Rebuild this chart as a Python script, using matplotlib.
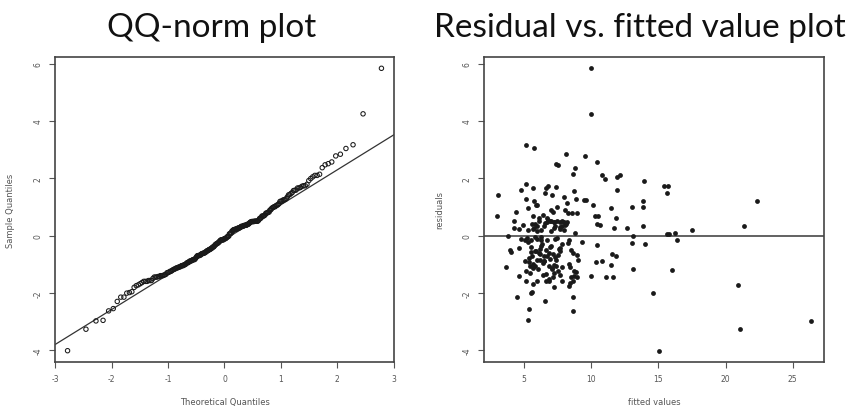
from statistics import NormalDist

import matplotlib

matplotlib.use("Agg")
import matplotlib.pyplot as plt
import numpy as np

# (fitted value, residual) pairs
fitted = [
    10.0, 10.0, 5.17, 5.72, 8.16, 9.53, 10.4, 7.36, 7.56, 8.81,
    8.66, 10.77, 11.04, 11.9, 12.14, 13.93, 5.17, 5.67, 4.80, 6.67,
    6.82, 7.36, 15.45, 15.75, 15.62, 8.71, 11.9, 3.08, 6.57, 7.11,
    5.17, 5.72, 5.87, 8.86, 9.50, 9.65, 10.10, 13.88, 22.34, 7.49,
    5.32, 13.06, 11.44, 13.88, 6.99, 7.16, 4.38, 8.56, 8.96, 2.96,
    5.67, 10.27, 10.52, 11.87, 4.28, 6.09, 6.74, 6.99, 7.24, 7.44,
    7.66, 7.86, 8.01, 8.18, 5.60, 5.85, 4.93, 6.47, 7.34, 7.69,
    8.06, 10.47, 10.65, 13.88, 21.39, 4.25, 4.63, 5.30, 5.67, 5.99,
    6.29, 7.04, 7.66, 7.96, 11.72, 12.64, 17.54, 8.76, 15.65, 15.80,
    16.27, 3.81, 13.08, 4.75, 5.07, 5.30, 5.55, 5.99, 6.24, 6.74,
    7.29, 8.36, 16.37, 9.33, 13.03, 14.00, 3.93, 4.05, 4.63, 5.55,
    5.80, 6.17, 6.62, 6.87, 7.59, 7.71, 8.48, 8.66, 8.91, 10.40,
    6.22, 6.49, 6.72, 7.14, 11.57, 11.84, 6.97, 6.52, 5.10, 5.35,
    5.97, 6.22, 7.41, 8.38, 9.0, 10.35, 10.77, 5.17, 5.42, 5.65,
    5.80, 3.69, 6.84, 7.11, 7.21, 7.86, 11.47, 13.08, 16.02, 4.60,
    5.17, 5.67, 5.97, 6.42, 6.62, 6.87, 7.26, 7.86, 8.41, 8.61,
    8.36, 8.53, 8.71, 8.96, 10.0, 11.09, 11.64, 7.26, 5.50, 5.62,
    20.92, 14.58, 4.50, 8.63, 6.59, 5.37, 8.63, 5.30, 21.07, 26.39,
    15.02,
    # points that overlap inside the dense cluster
    5.45, 5.85, 6.05, 6.35, 6.55, 6.95, 7.15, 7.45, 7.85, 8.25,
    5.6, 6.1, 6.4, 6.8, 7.0, 7.5, 5.9, 6.6, 7.3, 8.1,
    5.25, 5.75, 6.15, 6.45, 6.85, 7.25, 7.65, 8.05, 8.45, 8.85,
    5.4, 5.95, 6.3, 6.7, 7.05, 7.4, 7.8, 8.2, 5.55, 6.0,
    6.5, 7.2, 7.7, 8.3, 5.7, 6.25, 6.9, 7.55, 8.0, 8.7,
]
residuals = [
    5.84, 4.25, 3.17, 3.04, 2.84, 2.78, 2.57, 2.51, 2.47, 2.37,
    2.14, 2.10, 1.99, 2.05, 2.10, 1.92, 1.79, 1.66, 1.59, 1.66,
    1.72, 1.68, 1.74, 1.74, 1.50, 1.57, 1.58, 1.42, 1.47, 1.43,
    1.26, 1.20, 1.08, 1.29, 1.25, 1.24, 1.06, 1.20, 1.19, 1.01,
    0.97, 1.01, 0.95, 0.99, 0.89, 0.82, 0.82, 0.78, 0.78, 0.68,
    0.68, 0.70, 0.68, 0.60, 0.50, 0.50, 0.49, 0.50, 0.49, 0.50,
    0.49, 0.50, 0.49, 0.47, 0.42, 0.39, 0.36, 0.35, 0.32, 0.30,
    0.36, 0.39, 0.36, 0.32, 0.32, 0.27, 0.23, 0.19, 0.22, 0.15,
    0.20, 0.16, 0.23, 0.21, 0.27, 0.25, 0.21, 0.08, 0.06, 0.06,
    0.09, -0.02, -0.02, -0.11, -0.15, -0.21, -0.15, -0.11, -0.17, -0.15,
    -0.12, -0.15, -0.16, -0.22, -0.26, -0.29, -0.49, -0.58, -0.42, -0.40,
    -0.53, -0.47, -0.49, -0.61, -0.46, -0.53, -0.51, -0.61, -0.68, -0.32,
    -0.65, -0.70, -0.71, -0.63, -0.63, -0.70, -0.82, -0.90, -0.90, -0.94,
    -0.86, -0.84, -0.84, -0.98, -0.84, -0.94, -0.88, -1.25, -1.05, -1.13,
    -1.08, -1.11, -1.05, -1.13, -1.02, -1.09, -1.02, -1.17, -1.20, -1.40,
    -1.57, -1.68, -1.57, -1.37, -1.60, -1.60, -1.29, -1.60, -1.64, -1.57,
    -1.75, -1.45, -1.40, -1.45, -1.40, -1.43, -1.43, -1.81, -2.01, -1.96,
    -1.72, -1.99, -2.15, -2.15, -2.30, -2.55, -2.63, -2.96, -3.27, -2.98,
    -4.02,
    -1.30, -0.05, -1.15, -0.30, 0.45, -0.40, -1.45, -0.08, 0.33, -0.25,
    -0.70, 0.60, -0.95, 0.55, -0.35, -1.22, -0.55, -1.35, -0.75, 0.40,
    -0.10, 0.28, -0.62, 0.72, -1.50, 0.48, -0.45, 0.90, -1.10, -1.28,
    -0.78, 1.05, -0.38, 0.62, -1.18, -1.05, -0.28, 1.12, -0.58, 0.35,
    -0.88, 0.25, -1.38, 0.80, -1.00, -0.05, 0.52, -0.68, 1.35, -1.25,
]

y_ticks = [-4, -2, 0, 2, 4, 6]
qq_x_ticks = [-3, -2, -1, 0, 1, 2, 3]
fit_x_ticks = [5, 10, 15, 20, 25]

plt.rcParams["axes.unicode_minus"] = False
INK = "#1a1a1a"
GREY = "#555555"

# sample vs theoretical quantiles, R's ppoints with a = 3/8
sample_q = np.sort(np.array(residuals))
n = len(sample_q)
probs = (np.arange(1, n + 1) - 0.375) / (n + 0.25)
theory_q = np.array([NormalDist().inv_cdf(p) for p in probs])

# qqline: through the first and third quartiles
q_lo, q_hi = np.quantile(sample_q, [0.25, 0.75])
z_lo, z_hi = NormalDist().inv_cdf(0.25), NormalDist().inv_cdf(0.75)
slope = (q_hi - q_lo) / (z_hi - z_lo)
intercept = q_lo - slope * z_lo

fig = plt.figure(figsize=(8.53, 4.10), dpi=100)
W, H = 853, 410
ax_qq = fig.add_axes([55 / W, 47 / H, 339 / W, 305 / H])
ax_rf = fig.add_axes([484 / W, 47 / H, 340 / W, 305 / H])


def style_axes(ax, xticks, xlabel, ylabel):
    ax.margins(x=0.04, y=0.04)
    ax.set_xticks(xticks)
    ax.set_yticks(y_ticks)
    ax.set_yticklabels([str(t) for t in y_ticks], rotation=90, va="center")
    ax.tick_params(direction="out", length=4, width=0.8, colors=GREY,
                   labelsize=5.5, labelcolor=GREY, pad=5)
    for spine in ax.spines.values():
        spine.set_color("#444444")
        spine.set_linewidth(1.2)
    ax.set_xlabel(xlabel, fontsize=6, color=GREY, labelpad=10)
    ax.set_ylabel(ylabel, fontsize=6, color=GREY, labelpad=13)


ax_qq.scatter(theory_q, sample_q, s=10, facecolors="none", edgecolors=INK,
              linewidths=0.75, zorder=3)
ax_qq.axline((0, intercept), slope=slope, color="#333333", linewidth=0.9)
style_axes(ax_qq, qq_x_ticks, "Theoretical Quantiles", "Sample Quantiles")

ax_rf.scatter(fitted, residuals, s=12, color=INK, linewidths=0, zorder=3)
ax_rf.axhline(0, color=GREY, linewidth=1.3)
style_axes(ax_rf, fit_x_ticks, "fitted values", "residuals")

title_font = dict(family=["Lato", "DejaVu Sans"], fontsize=24, color="#111111")
fig.text(212 / W, 1 - 37 / H, "QQ-norm plot", ha="center", va="baseline", **title_font)
fig.text(640 / W, 1 - 37 / H, "Residual vs. fitted value plot", ha="center",
         va="baseline", **title_font)

fig.savefig("out.png", dpi=100)
